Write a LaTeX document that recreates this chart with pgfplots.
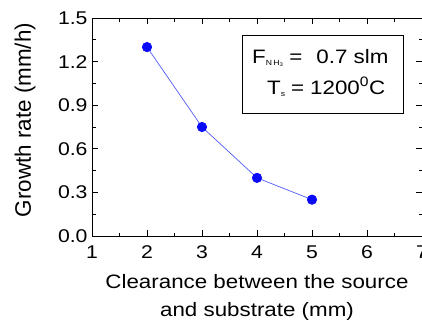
\documentclass[border=0pt]{standalone}
\usepackage{fontspec}
\setmainfont{Liberation Sans}[FakeStretch=1.15]
\newfontfamily\ylfont{Liberation Sans}
\usepackage{pgfplots}
\pgfplotsset{compat=1.18}
\usetikzlibrary{calc}
\definecolor{ptblue}{RGB}{10,10,250}
\definecolor{lnblue}{RGB}{80,90,245}
\begin{document}
\begin{tikzpicture}
\begin{axis}[
  scale only axis,
  width=330bp, height=218bp,
  xmin=1, xmax=7, ymin=0, ymax=1.5,
  xtick={1,2,3,4,5,6,7},
  ytick={0,0.3,0.6,0.9,1.2,1.5},
  minor x tick num=1,
  minor y tick num=1,
  tick align=inside,
  major tick length=6bp, minor tick length=3.5bp,
  every tick/.style={black, line width=0.8pt},
  axis line style={line width=1pt},
  /pgf/number format/assume math mode=true,
  tick label style={font=\fontsize{18.5}{20}\selectfont},
  xticklabel style={yshift=-6bp},
  yticklabel style={xshift=-1bp,
    /pgf/number format/fixed, /pgf/number format/fixed zerofill, /pgf/number format/precision=1},
  xlabel={Clearance between the source\\and substrate (mm)},
  xlabel style={font=\fontsize{19.5}{28}\selectfont, align=center, yshift=-9bp},
  ylabel={Growth rate (mm/h)},
  ylabel style={font=\ylfont\fontsize{22.5}{24}\selectfont, at={(axis description cs:-0.203,0.532)}, anchor=center},
  clip=false,
]
\addplot[color=lnblue, line width=0.7pt, mark=*, mark size=4.7bp,
  mark options={fill=ptblue, draw=ptblue}]
  coordinates {(2,1.30) (3,0.75) (4,0.40) (5,0.25)};
\draw[line width=0.8pt] (axis cs:3.727,1.383) rectangle (axis cs:6.655,0.846);
\node[anchor=base west, inner sep=0pt, font=\fontsize{19.5}{20}\selectfont] at (axis cs:3.909,1.190)
  {F\raisebox{-2.5bp}{\fontsize{7.5}{8}\selectfont N\,H\textsubscript{3}}\hspace{6bp}=\hspace{14bp}0.7 slm};
\node[anchor=base west, inner sep=0pt, font=\fontsize{19.5}{20}\selectfont] at (axis cs:4.182,0.977)
  {T\raisebox{-2.5bp}{\fontsize{7.5}{8}\selectfont s}\hspace{6bp}=\hspace{6bp}1200\textsuperscript{0}C};
\end{axis}
\pgfresetboundingbox
\path[use as bounding box] ($(current axis.south west)+(-92bp,-87bp)$) rectangle ($(current axis.north east)+(0bp,18bp)$);
\end{tikzpicture}
\end{document}
